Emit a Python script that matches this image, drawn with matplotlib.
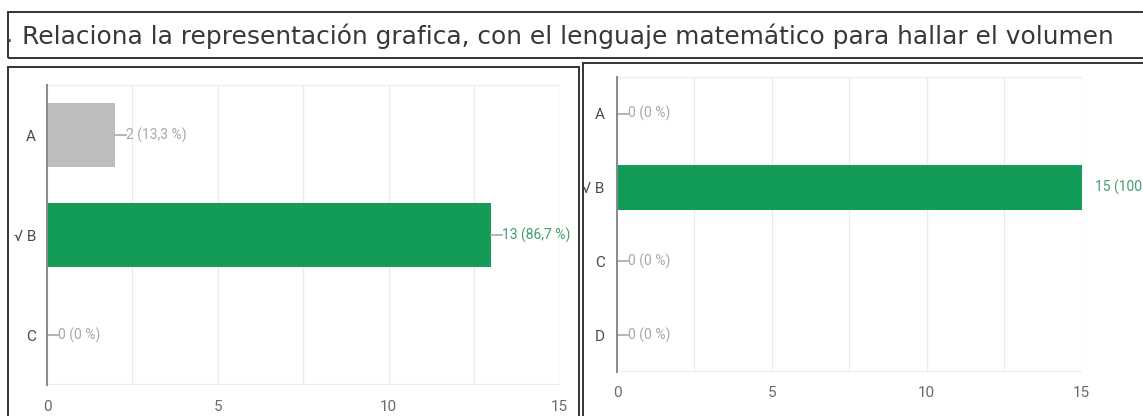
import matplotlib
matplotlib.use("Agg")
import matplotlib.pyplot as plt
from matplotlib.patches import Rectangle

# data
title = "Relaciona la representación grafica, con el lenguaje matemático para hallar el volumen"

left_cats = ["A", "√ B", "C"]
left_vals = [2, 13, 0]
left_labels = ["2 (13,3 %)", "13 (86,7 %)", "0 (0 %)"]
left_correct = [False, True, False]

right_cats = ["A", "√ B", "C", "D"]
right_vals = [0, 15, 0, 0]
right_labels = ["0 (0 %)", "15 (100 %)", "0 (0 %)", "0 (0 %)"]
right_correct = [False, True, False, False]

xticks = [0, 5, 10, 15]

GREEN = "#129c58"
GREY_BAR = "#bdbdbd"
GRID = "#ebebeb"
FONT = ["Roboto", "DejaVu Sans"]

W, H = 1143, 416
fig = plt.figure(figsize=(W / 100, H / 100), dpi=100)
fig.patch.set_facecolor("white")


def fx(px):
    return px / W


def fy(py):
    return 1 - py / H


def box(x0, y0, x1, y1):
    r = Rectangle((fx(x0), fy(y1)), fx(x1) - fx(x0), fy(y0) - fy(y1),
                  transform=fig.transFigure, fill=False, edgecolor="#333333",
                  linewidth=1.4, clip_on=False)
    fig.patches.append(r)


# frames
box(8, 12, 1160, 58)
box(8, 67, 579, 430)
box(583, 63, 1160, 430)

fig.text(fx(9), fy(42), ".", fontsize=16, color="#444444",
         family="DejaVu Sans", va="baseline", ha="center")
fig.text(fx(22), fy(36), title, fontsize=17.9, color="#383838",
         family="DejaVu Sans", va="center", ha="left")


def panel(rect, cats, vals, labels, correct, bar_h, lead, cat_pad, tick_pad):
    ax = fig.add_axes(rect)
    n = len(cats)
    pos = list(range(n))
    colors = [GREEN if c else GREY_BAR for c in correct]
    ax.barh(pos, vals, height=bar_h, color=colors, zorder=3)
    ax.set_xlim(0, 15)
    ax.set_ylim(n - 0.5, -0.5)
    ax.set_xticks(xticks)
    ax.set_xticks([2.5, 7.5, 12.5], minor=True)
    ax.set_yticks(pos)
    ax.set_yticklabels(cats)
    ax.grid(axis="x", which="both", color=GRID, linewidth=1, zorder=0)
    ax.axhline(n - 0.5, color=GRID, linewidth=1.5, zorder=1)
    ax.axhline(-0.5, color=GRID, linewidth=1, zorder=1)
    for s in ["top", "right", "bottom"]:
        ax.spines[s].set_visible(False)
    ax.spines["left"].set_color("#8a8a8a")
    ax.spines["left"].set_linewidth(1.4)
    ax.spines["left"].set_zorder(4)
    ax.tick_params(axis="both", which="both", length=0)
    ax.tick_params(axis="y", pad=cat_pad, labelsize=11, labelcolor="#4a4a4a")
    ax.tick_params(axis="x", pad=tick_pad, labelsize=11, labelcolor="#6a6a6a")
    for t in ax.get_xticklabels() + ax.get_yticklabels():
        t.set_family(FONT)
    for i, (v, lab, c) in enumerate(zip(vals, labels, correct)):
        col = "#3f9e6c" if c else "#a8a8a8"
        if v < 15:
            ax.plot([v, v + lead], [i, i], color="#a8a8a8", linewidth=1.2,
                    zorder=4, clip_on=False)
            x_t = v + lead
        else:
            x_t = v + 0.45
        ax.text(x_t, i, lab, color=col, fontsize=10, family=FONT,
                va="center", ha="left", clip_on=False)
    return ax


panel([fx(47), fy(385), fx(559.5) - fx(47), fy(85) - fy(385)],
      left_cats, left_vals, left_labels, left_correct,
      0.64, 0.32, 8, 11)
panel([fx(617), fy(372), fx(1081.5) - fx(617), fy(76.7) - fy(372)],
      right_cats, right_vals, right_labels, right_correct,
      0.62, 0.35, 9, 10)

fig.savefig("out.png", dpi=100)
